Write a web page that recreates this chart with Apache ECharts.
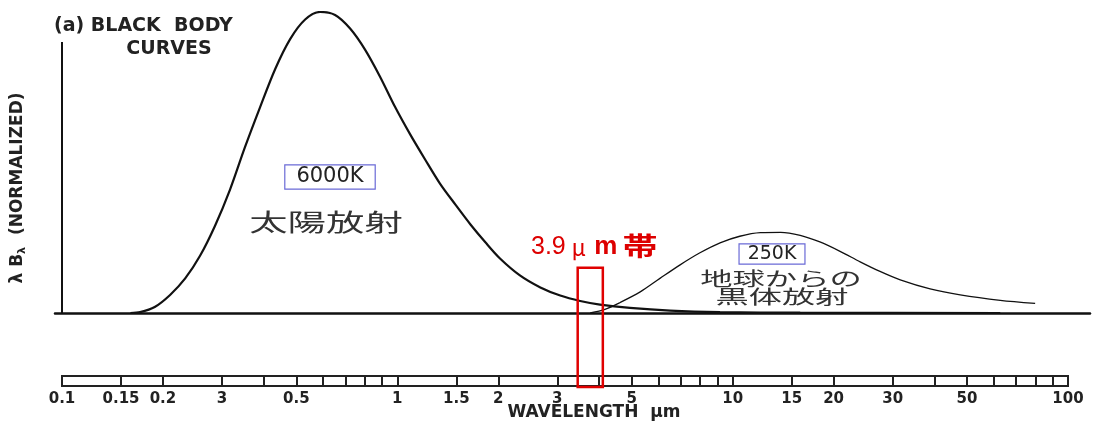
<!DOCTYPE html>
<html><head><meta charset="utf-8">
<script src="https://cdn.jsdelivr.net/npm/echarts@6/dist/echarts.min.js"></script>
<style>html,body{margin:0;padding:0;background:#fff}#c{width:1093px;height:428px}</style>
</head><body><div id="c"></div>
<script>
// Wavelength (µm) and normalized λBλ
const sunWavelength = [0.160, 0.171, 0.189, 0.210, 0.233, 0.258, 0.286, 0.317, 0.351, 0.390, 0.432, 0.479, 0.531, 0.588, 0.652, 0.723, 0.801, 0.888, 0.984, 1.09, 1.21, 1.34, 1.49, 1.65, 1.83, 2.02, 2.32, 2.67, 3.06, 3.51, 4.02, 4.94, 6.51, 9.17, 15.9, 62.8];
const sunValue      = [0, 0.003, 0.02, 0.06, 0.115, 0.19, 0.29, 0.41, 0.55, 0.685, 0.81, 0.91, 0.975, 1.0, 0.99, 0.945, 0.875, 0.785, 0.685, 0.595, 0.51, 0.43, 0.36, 0.295, 0.235, 0.182, 0.125, 0.085, 0.058, 0.04, 0.028, 0.017, 0.008, 0.003, 0.001, 0];
const earthWavelength = [3.76, 4.16, 4.62, 5.30, 6.07, 6.97, 7.99, 9.17, 10.5, 12.1, 13.9, 15.9, 18.2, 20.9, 24.0, 27.5, 31.6, 38.8, 47.7, 62.8, 79.8];
const earthValue      = [0, 0.012, 0.035, 0.07, 0.115, 0.16, 0.20, 0.233, 0.255, 0.267, 0.268, 0.258, 0.236, 0.205, 0.17, 0.138, 0.11, 0.08, 0.06, 0.042, 0.032];
const rulerTicks = [0.15, 0.2, 0.3, 0.4, 0.5, 0.6, 0.7, 0.8, 0.9, 1, 1.5, 2, 3, 4, 5, 6, 7, 8, 9, 10, 15, 20, 30, 40, 50, 60, 70, 80, 90];
const rulerLabelValues = [0.1, 0.15, 0.2, 0.3, 0.5, 1, 1.5, 2, 3, 5, 10, 15, 20, 30, 50, 100];
const rulerLabelTexts  = ['0.1', '0.15', '0.2', '3', '0.5', '1', '1.5', '2', '3', '5', '10', '15', '20', '30', '50', '100'];
const band = [3.45, 4.1];      // highlighted 3.9 µm band
const bandTop = 0.15;          // top of band box in normalized units
const yAxisTop = 0.9;          // top of the drawn y axis line

const zip = (a, b) => a.map((x, i) => [x, b[i]]);
const chart = echarts.init(document.getElementById('c'), null, {renderer: 'canvas'});
const FONT = '"DejaVu Sans", sans-serif';
const JP = '"Noto Sans CJK JP", sans-serif';

chart.setOption({
  animation: false,
  backgroundColor: '#fff',
  grid: [
    {left: 55, right: 3, top: 12, bottom: 115},
    {left: 62, right: 25, top: 376, height: 10, show: true, borderColor: '#222', borderWidth: 2, backgroundColor: '#fff'}
  ],
  xAxis: [
    {type: 'log', logBase: 10, gridIndex: 0, min: 0.0953, max: 116.3,
     axisLine: {show: true, onZero: false, lineStyle: {color: '#111', width: 2.5}},
     axisTick: {show: false}, axisLabel: {show: false}, splitLine: {show: false}},
    {type: 'log', logBase: 10, gridIndex: 1, min: 0.1, max: 100,
     axisLine: {show: false},
     axisTick: {show: true, customValues: rulerTicks, inside: true, length: 10, lineStyle: {color: '#222', width: 2}},
     axisLabel: {show: true, customValues: rulerLabelValues, margin: 6, fontFamily: FONT, fontWeight: 'bold', fontSize: 15, color: '#222',
       formatter: v => { const i = rulerLabelValues.findIndex(x => Math.abs(x - v) / x < 1e-6); return i >= 0 ? rulerLabelTexts[i] : ''; }},
     splitLine: {show: false}, minorTick: {show: false}}
  ],
  yAxis: [
    {type: 'value', gridIndex: 0, min: 0, max: 1, show: false},
    {type: 'value', gridIndex: 1, min: 0, max: 1, show: false}
  ],
  series: [
    {type: 'line', name: 'sun', xAxisIndex: 0, yAxisIndex: 0, data: zip(sunWavelength, sunValue),
     smooth: 0.3, showSymbol: false, lineStyle: {color: '#111', width: 2.2}, z: 3,
     markLine: {silent: true, symbol: ['none', 'none'], label: {show: false},
       lineStyle: {color: '#111', width: 2, type: 'solid'},
       data: [[{coord: [0.1, 0]}, {coord: [0.1, yAxisTop]}]]}},
    {type: 'line', name: 'earth', xAxisIndex: 0, yAxisIndex: 0, data: zip(earthWavelength, earthValue),
     smooth: 0.3, showSymbol: false, lineStyle: {color: '#111', width: 1.3}, z: 3}
  ]
});

const pTop = chart.convertToPixel({xAxisIndex: 0, yAxisIndex: 0}, [band[0], bandTop]);
const pRight = chart.convertToPixel({xAxisIndex: 0, yAxisIndex: 0}, [band[1], bandTop]);
const pBottom = chart.convertToPixel({xAxisIndex: 1, yAxisIndex: 1}, [band[1], 0]);

chart.setOption({
  graphic: [
    {type: 'text', x: 54, y: 26, style: {text: '(a) BLACK  BODY', fontFamily: FONT, fontWeight: 'bold', fontSize: 19, fill: '#222', textVerticalAlign: 'middle'}},
    {type: 'text', x: 169, y: 49, style: {text: 'CURVES', fontFamily: FONT, fontWeight: 'bold', fontSize: 19, fill: '#222', textAlign: 'center', textVerticalAlign: 'middle'}},
    {type: 'text', x: 18, y: 188, rotation: Math.PI / 2,
     style: {text: '{a|λ B}{s|λ}{a|  (NORMALIZED)}', textAlign: 'center', textVerticalAlign: 'middle', fill: '#222',
       rich: {a: {fontFamily: FONT, fontWeight: 'bold', fontSize: 17, fill: '#222'}, s: {fontFamily: FONT, fontWeight: 'bold', fontSize: 11, fill: '#222', padding: [9, 0, 0, 0]}}}},
    {type: 'text', x: 330, y: 177, style: {text: '6000K', fontFamily: FONT, fontSize: 21, fill: '#222', textAlign: 'center', textVerticalAlign: 'middle',
       borderColor: '#6a6ad6', borderWidth: 1.2, padding: [1, 11, 1, 11], backgroundColor: '#fff'}},
    {type: 'text', x: 326, y: 222, scaleX: 1.6,
     style: {text: '太陽放射', fontFamily: JP, fontSize: 24, fill: '#333', textAlign: 'center', textVerticalAlign: 'middle'}},
    {type: 'text', x: 772, y: 254, style: {text: '250K', fontFamily: FONT, fontSize: 19, fill: '#222', textAlign: 'center', textVerticalAlign: 'middle',
       borderColor: '#6a6ad6', borderWidth: 1.2, padding: [0, 8, 0, 8], backgroundColor: '#fff'}},
    {type: 'text', x: 781, y: 279, scaleX: 1.7,
     style: {text: '地球からの', fontFamily: JP, fontSize: 19, fill: '#333', textAlign: 'center', textVerticalAlign: 'middle'}},
    {type: 'text', x: 782, y: 297, scaleX: 1.75,
     style: {text: '黒体放射', fontFamily: JP, fontSize: 19, fill: '#333', textAlign: 'center', textVerticalAlign: 'middle'}},
    {type: 'text', x: 531, y: 247, style: {text: '{n|3.9}{u|μ}{m|m}', textVerticalAlign: 'middle',
       rich: {n: {fontFamily: '"Liberation Sans"', fontSize: 25, fill: '#dd0000'},
              u: {fontFamily: JP, fontSize: 23, fill: '#dd0000', width: 26, align: 'center'},
              m: {fontFamily: '"Liberation Sans"', fontWeight: 'bold', fontSize: 26, fill: '#dd0000', width: 28, align: 'center'}}}},
    {type: 'text', x: 640, y: 246, scaleX: 1.35,
     style: {text: '帯', fontFamily: JP, fontWeight: 'bold', fontSize: 26, fill: '#dd0000', textAlign: 'center', textVerticalAlign: 'middle'}},
    {type: 'rect', z: 100, shape: {x: pTop[0], y: pTop[1], width: pRight[0] - pTop[0], height: pBottom[1] + 1 - pTop[1]},
     style: {fill: 'none', stroke: '#e00000', lineWidth: 2.5}},
    {type: 'text', x: 594, y: 413, style: {text: 'WAVELENGTH  μm', fontFamily: FONT, fontWeight: 'bold', fontSize: 17, fill: '#222', textAlign: 'center', textVerticalAlign: 'middle'}}
  ]
});
</script></body></html>
